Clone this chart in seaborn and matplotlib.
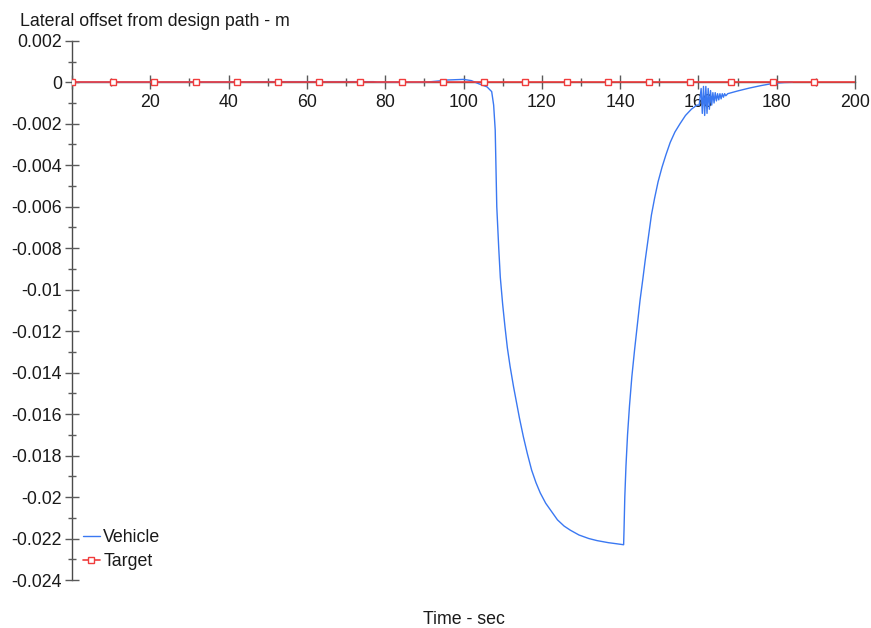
import matplotlib
matplotlib.use("Agg")
import matplotlib.pyplot as plt
from matplotlib.ticker import MultipleLocator, FuncFormatter
import pandas as pd
import seaborn as sns

# Vehicle lateral offset (m) against time (s)
vehicle_time = [
    0, 20, 45, 50, 77, 78, 90, 93, 96, 100, 102, 104, 106,
    107.2, 107.7, 108.1, 108.5, 109.0, 109.4, 110.0, 110.6, 111.2, 111.9,
    112.8, 113.5, 114.3, 115.3, 116.3, 117.4, 118.5, 119.6, 121.0, 122.5,
    124.0, 125.7, 127.3, 129.5, 132.0, 134.1, 137.0, 139.0, 140.9,
    141.0, 141.2, 141.5, 141.9, 142.4, 143.0, 143.7, 144.4, 145.1, 145.8,
    146.4, 147.2, 148.0, 148.8, 149.7, 150.7, 151.7, 152.8, 154.0, 155.3,
    156.7, 158.2, 159.6,
    160.2, 160.7, 161.0, 161.3, 161.6, 161.9, 162.2, 162.5, 162.8, 163.1,
    163.4, 163.7, 164.0, 164.3, 164.6, 164.9, 165.2, 165.5, 165.8, 166.1,
    166.4, 166.7, 167.0, 167.5, 170.0, 173.0, 176.0, 179.2, 182.0, 184.0,
]
vehicle_offset = [
    0.0, 0.0, 0.00001, 0.00003, 0.00003, 0.0, 0.0, 0.00005, 0.00011, 0.00014,
    0.00008, -0.00008, -0.00022,
    -0.00045, -0.0011, -0.0023, -0.0060, -0.0080, -0.0094, -0.0107, -0.0118,
    -0.0128, -0.0137,
    -0.0147, -0.0154, -0.0162, -0.0171, -0.0179, -0.0187, -0.0193, -0.0198,
    -0.0203, -0.0207,
    -0.0211, -0.0214, -0.0216, -0.02183, -0.0220, -0.0221, -0.0222,
    -0.02225, -0.0223,
    -0.0216, -0.0200, -0.0185, -0.0170, -0.0156, -0.0142, -0.0129, -0.0117,
    -0.0105, -0.0095,
    -0.0086, -0.0075, -0.0064, -0.0056, -0.0048, -0.0041, -0.0035, -0.0029,
    -0.0024, -0.0020,
    -0.0016, -0.0013, -0.0011,
    -0.0011, -0.0003, -0.0015, -0.0002, -0.0016, -0.0002, -0.0015, -0.0003,
    -0.0013, -0.0004,
    -0.0011, -0.0005, -0.0010, -0.0005, -0.0009, -0.00055, -0.00085,
    -0.00055, -0.0008, -0.00055,
    -0.00072, -0.00055, -0.00065, -0.00055, -0.00042, -0.00028, -0.00016,
    -0.00005, -0.00001, 0.0,
]

# Target offset: held at zero over the run
target_time = [0, 10.53, 21.05, 31.58, 42.11, 52.63, 63.16, 73.68, 84.21,
               94.74, 105.26, 115.79, 126.32, 136.84, 147.37, 157.89,
               168.42, 178.95, 189.47, 200]
target_offset = [0.0] * len(target_time)

x_label = "Time - sec"
y_label = "Lateral offset from design path - m"

sns.set_style("white")
plt.rcParams["font.family"] = ["Liberation Sans", "DejaVu Sans"]

W, H = 871, 628
fig = plt.figure(figsize=(W / 100, H / 100), dpi=100)
ax = fig.add_axes([72 / W, 1 - 580 / H, (855 - 72) / W, (580 - 40.8) / H])

veh = pd.DataFrame({"t": vehicle_time, "y": vehicle_offset})
tgt = pd.DataFrame({"t": target_time, "y": target_offset})

blue = "#3a78f2"
red = "#f03c3c"

sns.lineplot(data=veh, x="t", y="y", ax=ax, color=blue, lw=1.0,
             estimator=None, sort=False, label="Vehicle")
sns.lineplot(data=tgt, x="t", y="y", ax=ax, color=red, lw=1.2,
             estimator=None, sort=False, label="Target",
             marker="s", markersize=4.6, markerfacecolor="white",
             markeredgecolor=red, markeredgewidth=1.0,
             markevery=list(range(len(target_time) - 1)))

ax.set_xlim(0, 200)
ax.set_ylim(-0.024, 0.002)
ax.set_xlabel("")
ax.set_ylabel("")

spine_c = "#4a4a4a"
for s in ("top", "right"):
    ax.spines[s].set_visible(False)
ax.spines["bottom"].set_position(("data", 0))
ax.spines["left"].set_position(("data", 0))
for s in ("bottom", "left"):
    ax.spines[s].set_color(spine_c)
    ax.spines[s].set_linewidth(1.0)
    ax.spines[s].set_zorder(0.5)

ax.xaxis.set_major_locator(MultipleLocator(20))
ax.xaxis.set_minor_locator(MultipleLocator(10))
ax.yaxis.set_major_locator(MultipleLocator(0.002))
ax.yaxis.set_minor_locator(MultipleLocator(0.001))

ax.xaxis.set_major_formatter(FuncFormatter(lambda v, p: "" if abs(v) < 1e-9 else f"{v:g}"))
ax.yaxis.set_major_formatter(FuncFormatter(lambda v, p: f"{round(v, 4):g}"))

ax.tick_params(axis="both", which="both", bottom=True, left=True,
               top=False, right=False)
ax.tick_params(axis="both", which="major", direction="inout", length=9.5,
               width=1.0, color="#5a5a5a", labelsize=12.8, labelcolor="#1a1a1a")
ax.tick_params(axis="both", which="minor", direction="inout", length=5.5,
               width=1.0, color="#5a5a5a")
ax.tick_params(axis="x", which="major", pad=4.0)
ax.tick_params(axis="y", which="major", pad=2.5)

leg = ax.legend(loc="lower left", bbox_to_anchor=(0.0137, 0.018), frameon=False,
                fontsize=12.8, borderaxespad=0, borderpad=0, handlelength=0.95,
                handletextpad=0.2, labelspacing=0.4)
for txt in leg.get_texts():
    txt.set_color("#1a1a1a")

fig.text(20 / W, 1 - 26 / H, y_label, fontsize=12.8, color="#1a1a1a",
         ha="left", va="baseline")
fig.text(463.5 / W, 1 - 624 / H, x_label, fontsize=12.8, color="#1a1a1a",
         ha="center", va="baseline")

fig.savefig("out.png", dpi=100, facecolor="white")
